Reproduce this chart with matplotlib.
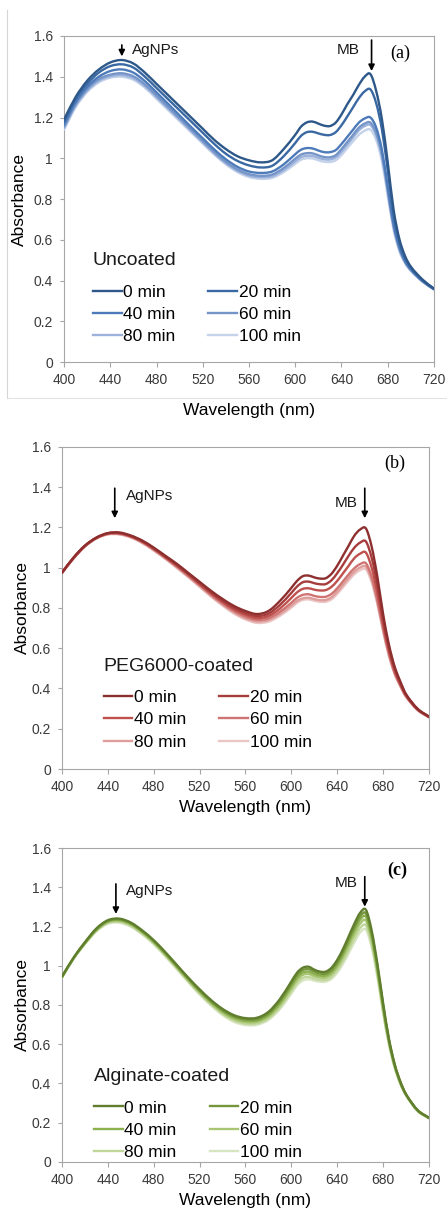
import matplotlib.pyplot as plt
from matplotlib.lines import Line2D
from matplotlib.path import Path
from matplotlib.patches import PathPatch
from matplotlib.ticker import FuncFormatter, MultipleLocator

plt.rcParams['font.family'] = ['Liberation Sans', 'DejaVu Sans']

# UV-vis spectra of AgNPs + methylene blue, sampled every 10 nm (5 nm around the MB band)
wavelength = [400, 410, 420, 430, 440, 450, 460, 470, 480, 490, 500,
              510, 520, 530, 540, 550, 560, 570, 580, 590, 600,
              605, 610, 615, 620, 625, 630, 635, 640, 645, 650,
              655, 660, 665, 670, 675, 680, 685, 690, 695,
              700, 710, 720]
times = ['0 min', '20 min', '40 min', '60 min', '80 min', '100 min']

unc_0 = [1.19, 1.30, 1.38, 1.435, 1.47, 1.482, 1.465, 1.42, 1.365, 1.31, 1.255,
         1.20, 1.145, 1.09, 1.045, 1.01, 0.99, 0.98, 0.99, 1.045, 1.115,
         1.155, 1.176, 1.18, 1.17, 1.16, 1.158, 1.175, 1.215, 1.265, 1.31,
         1.36, 1.40, 1.413, 1.33, 1.19, 0.98, 0.75, 0.605, 0.52,
         0.468, 0.405, 0.36]
unc_20 = [1.18, 1.29, 1.365, 1.42, 1.452, 1.461, 1.445, 1.40, 1.345, 1.29, 1.235,
          1.18, 1.125, 1.07, 1.022, 0.987, 0.965, 0.955, 0.963, 1.01, 1.075,
          1.11, 1.128, 1.13, 1.122, 1.115, 1.114, 1.128, 1.162, 1.205, 1.25,
          1.295, 1.328, 1.338, 1.27, 1.14, 0.94, 0.725, 0.59, 0.51,
          0.462, 0.402, 0.36]
unc_40 = [1.165, 1.275, 1.35, 1.40, 1.428, 1.436, 1.42, 1.378, 1.323, 1.267, 1.21,
          1.153, 1.098, 1.043, 0.995, 0.958, 0.935, 0.928, 0.935, 0.97, 1.02,
          1.042, 1.05, 1.048, 1.038, 1.03, 1.03, 1.04, 1.07, 1.105, 1.14,
          1.175, 1.195, 1.20, 1.15, 1.04, 0.86, 0.68, 0.565, 0.495,
          0.455, 0.398, 0.358]
unc_60 = [1.155, 1.265, 1.34, 1.388, 1.41, 1.417, 1.402, 1.362, 1.308, 1.252, 1.196,
          1.14, 1.085, 1.03, 0.982, 0.945, 0.922, 0.914, 0.92, 0.952, 0.998,
          1.018, 1.025, 1.024, 1.014, 1.006, 1.005, 1.015, 1.045, 1.08, 1.115,
          1.15, 1.17, 1.175, 1.125, 1.02, 0.845, 0.67, 0.56, 0.492,
          0.452, 0.397, 0.357]
unc_80 = [1.148, 1.258, 1.332, 1.38, 1.402, 1.408, 1.393, 1.354, 1.30, 1.245, 1.19,
          1.134, 1.079, 1.024, 0.976, 0.939, 0.915, 0.907, 0.912, 0.942, 0.985,
          1.005, 1.012, 1.011, 1.002, 0.995, 0.994, 1.004, 1.032, 1.067, 1.102,
          1.137, 1.158, 1.163, 1.113, 1.008, 0.835, 0.665, 0.555, 0.49,
          0.45, 0.396, 0.357]
unc_100 = [1.14, 1.25, 1.325, 1.372, 1.395, 1.40, 1.385, 1.346, 1.292, 1.237, 1.182,
           1.127, 1.072, 1.018, 0.97, 0.932, 0.908, 0.899, 0.904, 0.932, 0.973,
           0.993, 1.0, 0.999, 0.99, 0.983, 0.982, 0.99, 1.016, 1.05, 1.083,
           1.115, 1.135, 1.14, 1.09, 0.985, 0.815, 0.65, 0.545, 0.485,
           0.447, 0.395, 0.356]

peg_0 = [0.975, 1.05, 1.11, 1.15, 1.172, 1.175, 1.16, 1.135, 1.10, 1.06, 1.02,
         0.975, 0.93, 0.885, 0.845, 0.81, 0.785, 0.77, 0.785, 0.835, 0.90,
         0.935, 0.958, 0.961, 0.952, 0.946, 0.948, 0.97, 1.01, 1.06, 1.11,
         1.16, 1.19, 1.195, 1.105, 0.955, 0.77, 0.62, 0.51, 0.435,
         0.372, 0.30, 0.26]
peg_20 = [0.977, 1.049, 1.109, 1.149, 1.171, 1.173, 1.158, 1.132, 1.097, 1.056, 1.015,
          0.97, 0.924, 0.878, 0.837, 0.801, 0.775, 0.76, 0.772, 0.815, 0.875,
          0.907, 0.928, 0.931, 0.923, 0.918, 0.919, 0.938, 0.973, 1.015, 1.06,
          1.10, 1.125, 1.13, 1.05, 0.915, 0.745, 0.605, 0.50, 0.428,
          0.368, 0.298, 0.26]
peg_40 = [0.976, 1.048, 1.108, 1.148, 1.17, 1.171, 1.156, 1.13, 1.094, 1.053, 1.011,
          0.966, 0.919, 0.872, 0.83, 0.793, 0.766, 0.75, 0.76, 0.797, 0.85,
          0.878, 0.895, 0.898, 0.891, 0.887, 0.889, 0.905, 0.935, 0.972, 1.01,
          1.048, 1.07, 1.075, 1.00, 0.875, 0.72, 0.59, 0.49, 0.422,
          0.365, 0.296, 0.259]
peg_60 = [0.975, 1.047, 1.107, 1.147, 1.168, 1.169, 1.154, 1.127, 1.091, 1.05, 1.007,
          0.961, 0.914, 0.866, 0.823, 0.785, 0.757, 0.741, 0.749, 0.781, 0.826,
          0.851, 0.865, 0.868, 0.86, 0.855, 0.856, 0.87, 0.898, 0.932, 0.967,
          0.998, 1.018, 1.022, 0.955, 0.84, 0.70, 0.575, 0.48, 0.416,
          0.362, 0.295, 0.258]
peg_80 = [0.974, 1.046, 1.106, 1.146, 1.167, 1.167, 1.152, 1.125, 1.088, 1.047, 1.003,
          0.957, 0.909, 0.861, 0.817, 0.778, 0.749, 0.733, 0.74, 0.77, 0.812,
          0.835, 0.848, 0.851, 0.844, 0.839, 0.84, 0.853, 0.881, 0.915, 0.95,
          0.981, 1.001, 1.005, 0.94, 0.828, 0.69, 0.568, 0.476, 0.413,
          0.36, 0.294, 0.257]
peg_100 = [0.973, 1.045, 1.105, 1.145, 1.165, 1.165, 1.15, 1.122, 1.085, 1.044, 0.999,
           0.953, 0.905, 0.856, 0.812, 0.772, 0.743, 0.726, 0.732, 0.761, 0.802,
           0.826, 0.84, 0.843, 0.836, 0.831, 0.831, 0.843, 0.87, 0.903, 0.937,
           0.968, 0.988, 0.992, 0.928, 0.818, 0.682, 0.562, 0.472, 0.41,
           0.358, 0.293, 0.256]

alg_0 = [0.945, 1.04, 1.12, 1.19, 1.232, 1.24, 1.22, 1.18, 1.13, 1.07, 1.005,
         0.94, 0.88, 0.825, 0.78, 0.748, 0.733, 0.735, 0.765, 0.83, 0.92,
         0.965, 0.99, 0.995, 0.98, 0.97, 0.97, 0.99, 1.03, 1.085, 1.15,
         1.215, 1.27, 1.285, 1.18, 1.01, 0.81, 0.63, 0.50, 0.41,
         0.345, 0.265, 0.225]
alg_20 = [0.944, 1.039, 1.118, 1.187, 1.229, 1.237, 1.217, 1.177, 1.127, 1.066, 1.001,
          0.936, 0.875, 0.82, 0.774, 0.742, 0.727, 0.728, 0.757, 0.82, 0.908,
          0.953, 0.978, 0.983, 0.97, 0.96, 0.96, 0.979, 1.018, 1.072, 1.135,
          1.198, 1.252, 1.267, 1.165, 0.998, 0.80, 0.625, 0.497, 0.408,
          0.344, 0.264, 0.225]
alg_40 = [0.943, 1.038, 1.116, 1.184, 1.226, 1.233, 1.213, 1.173, 1.123, 1.062, 0.997,
          0.932, 0.87, 0.815, 0.768, 0.736, 0.72, 0.721, 0.749, 0.81, 0.896,
          0.94, 0.965, 0.97, 0.958, 0.95, 0.95, 0.968, 1.006, 1.058, 1.12,
          1.182, 1.235, 1.25, 1.15, 0.985, 0.79, 0.62, 0.494, 0.406,
          0.343, 0.263, 0.224]
alg_60 = [0.942, 1.037, 1.114, 1.181, 1.222, 1.229, 1.209, 1.169, 1.119, 1.058, 0.993,
          0.927, 0.865, 0.809, 0.762, 0.729, 0.713, 0.714, 0.741, 0.80, 0.884,
          0.928, 0.953, 0.958, 0.947, 0.94, 0.94, 0.957, 0.993, 1.043, 1.103,
          1.163, 1.215, 1.23, 1.133, 0.972, 0.78, 0.614, 0.49, 0.403,
          0.342, 0.262, 0.224]
alg_80 = [0.941, 1.036, 1.112, 1.178, 1.218, 1.224, 1.204, 1.164, 1.114, 1.053, 0.988,
          0.922, 0.859, 0.803, 0.755, 0.721, 0.705, 0.706, 0.732, 0.789, 0.87,
          0.913, 0.938, 0.943, 0.934, 0.928, 0.928, 0.944, 0.978, 1.025, 1.082,
          1.14, 1.192, 1.206, 1.112, 0.956, 0.768, 0.606, 0.485, 0.40,
          0.341, 0.261, 0.223]
alg_100 = [0.94, 1.035, 1.11, 1.175, 1.214, 1.219, 1.199, 1.159, 1.109, 1.048, 0.983,
           0.917, 0.853, 0.797, 0.749, 0.714, 0.698, 0.699, 0.724, 0.779, 0.858,
           0.90, 0.925, 0.931, 0.924, 0.919, 0.919, 0.933, 0.965, 1.01, 1.064,
           1.12, 1.17, 1.184, 1.093, 0.942, 0.758, 0.60, 0.481, 0.397,
           0.34, 0.26, 0.223]

blues = ['#2D5889', '#3A68A3', '#4D7BBA', '#7595C9', '#9CB2DA', '#C4D2EA']
reds = ['#8E2F2F', '#A63C3B', '#BE504D', '#CF7472', '#DE9E9C', '#EBC6C5']
greens = ['#5F7E2E', '#76963C', '#8DB04E', '#A7C572', '#C0D69B', '#D8E5C2']

fig = plt.figure(figsize=(4.47, 12.08), dpi=100)
ax_a = fig.add_axes([0.1432, 0.7003, 0.8277, 0.2699])
ax_b = fig.add_axes([0.1387, 0.3634, 0.8210, 0.2666])
ax_c = fig.add_axes([0.1387, 0.0381, 0.8210, 0.2599])

# thin border line left over around the first panel
fig.add_artist(Line2D([6.5 / 447, 6.5 / 447], [1 - 10 / 1208, 1 - 398 / 1208],
                      transform=fig.transFigure, color='#D6D6D6', lw=0.8))
fig.add_artist(Line2D([6.5 / 447, 1.0], [1 - 398 / 1208, 1 - 398 / 1208],
                      transform=fig.transFigure, color='#E2E2E2', lw=0.8))


def smooth_path(x, y):
    # smoothed line through the points (cubic Hermite drawn as Bezier segments)
    n = len(x)
    slopes = []
    for i in range(n):
        lo, hi = max(i - 1, 0), min(i + 1, n - 1)
        slopes.append((y[hi] - y[lo]) / (x[hi] - x[lo]))
    verts = [(x[0], y[0])]
    codes = [Path.MOVETO]
    for i in range(n - 1):
        h = x[i + 1] - x[i]
        verts += [(x[i] + h / 3, y[i] + slopes[i] * h / 3),
                  (x[i + 1] - h / 3, y[i + 1] - slopes[i + 1] * h / 3),
                  (x[i + 1], y[i + 1])]
        codes += [Path.CURVE4] * 3
    return Path(verts, codes)


def draw_panel(ax, series, colors, title, leg_anchor, xlabel_pad, ylabel_x):
    for i in range(len(series) - 1, -1, -1):
        ax.add_patch(PathPatch(smooth_path(wavelength, series[i]), fill=False,
                               edgecolor=colors[i], lw=1.7, zorder=10 - i,
                               capstyle='round', joinstyle='round'))
    handles = [Line2D([], [], color=c, lw=1.7) for c in colors]
    ax.set_xlim(400, 720)
    ax.set_ylim(0, 1.6)
    ax.xaxis.set_major_locator(MultipleLocator(40))
    ax.yaxis.set_major_locator(MultipleLocator(0.2))
    ax.yaxis.set_major_formatter(FuncFormatter(lambda v, p: f'{v:g}'))
    for s in ax.spines.values():
        s.set_color('#A6A6A6')
        s.set_linewidth(0.8)
    ax.tick_params(axis='both', direction='out', width=0.8, color='#A6A6A6',
                   labelsize=10, labelcolor='#3A3A3A')
    ax.tick_params(axis='x', length=3.6, pad=4.5)
    ax.tick_params(axis='y', length=3, pad=5)
    ax.set_xlabel('Wavelength (nm)', fontsize=12.5, labelpad=xlabel_pad)
    ax.set_ylabel('Absorbance', fontsize=12.5)
    ax.yaxis.set_label_coords(ylabel_x, 0.5)
    # legend is filled row by row: 0|20, 40|60, 80|100
    order = [0, 2, 4, 1, 3, 5]
    leg = ax.legend([handles[k] for k in order], [times[k] for k in order],
                    ncol=2, loc='upper left', bbox_to_anchor=leg_anchor,
                    frameon=False, title=title, title_fontsize=14,
                    alignment='left', fontsize=12.5, handlelength=1.65,
                    handletextpad=0.1, columnspacing=1.9, labelspacing=0.42,
                    borderpad=0, borderaxespad=0)
    leg.get_title().set_color('#1A1A1A')
    leg._legend_box.sep = 11


def mark(ax, x, y0, y1, label, tx, ty, ha):
    ax.annotate('', xy=(x, y1), xytext=(x, y0),
                arrowprops=dict(arrowstyle='-|>', color='black', lw=1.2,
                                mutation_scale=9, shrinkA=0, shrinkB=0),
                zorder=20)
    ax.text(tx, ty, label, ha=ha, va='center', fontsize=11, color='#1A1A1A')


draw_panel(ax_a, [unc_0, unc_20, unc_40, unc_60, unc_80, unc_100], blues,
           'Uncoated', (0.078, 0.337), 11, -0.101)
mark(ax_a, 450, 1.556, 1.50, 'AgNPs', 459, 1.531, 'left')
mark(ax_a, 666, 1.58, 1.428, 'MB', 656, 1.531, 'right')
ax_a.text(691, 1.517, '(a)', ha='center', va='center', fontsize=13,
          family=['Liberation Serif', 'DejaVu Serif'])

draw_panel(ax_b, [peg_0, peg_20, peg_40, peg_60, peg_80, peg_100], reds,
           'PEG6000-coated', (0.114, 0.346), 4, -0.086)
mark(ax_b, 446, 1.395, 1.246, 'AgNPs', 455.5, 1.358, 'left')
mark(ax_b, 664, 1.395, 1.246, 'MB', 657.5, 1.323, 'right')
ax_b.text(690, 1.519, '(b)', ha='center', va='center', fontsize=13,
          family=['Liberation Serif', 'DejaVu Serif'])

draw_panel(ax_c, [alg_0, alg_20, alg_40, alg_60, alg_80, alg_100], greens,
           'Alginate-coated', (0.087, 0.299), 4, -0.086)
mark(ax_c, 447, 1.417, 1.264, 'AgNPs', 456, 1.383, 'left')
mark(ax_c, 664, 1.454, 1.301, 'MB', 657.5, 1.423, 'right')
ax_c.text(692, 1.484, '(c)', ha='center', va='center', fontsize=13,
          fontweight='bold', family=['Liberation Serif', 'DejaVu Serif'])

fig.savefig('out.png', dpi=100)
